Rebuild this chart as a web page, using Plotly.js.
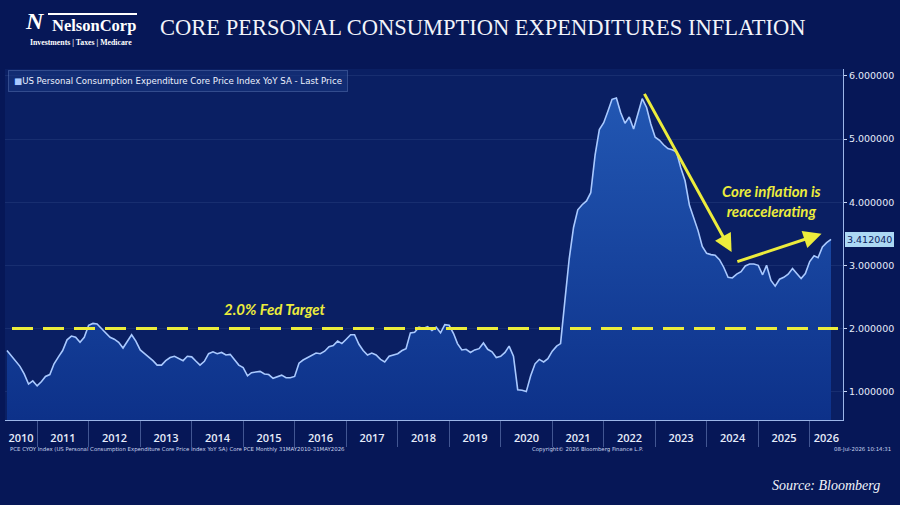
<!DOCTYPE html>
<html>
<head>
<meta charset="utf-8">
<script src="https://cdn.plot.ly/plotly-3.0.1.min.js"></script>
<style>
html,body{margin:0;padding:0;background:#061757;}
#chart{width:900px;height:505px;}
</style>
</head>
<body>
<div id="chart"></div>
<script>
// ---- Data (monthly) ----
var startYear = 2010, startMonth = 5; // May 2010, month-end dates
var v2010 = [1.65, 1.57, 1.47, 1.40, 1.28, 1.12, 1.17, 1.09];
var v2011 = [1.16, 1.24, 1.27, 1.44, 1.55, 1.65, 1.82, 1.88, 1.86, 1.78, 1.86, 2.05];
var v2012 = [2.08, 2.07, 2.00, 1.93, 1.86, 1.83, 1.78, 1.69, 1.80, 1.90, 1.80, 1.66];
var v2013 = [1.60, 1.55, 1.49, 1.42, 1.42, 1.49, 1.54, 1.56, 1.52, 1.49, 1.56, 1.55];
var v2014 = [1.48, 1.42, 1.48, 1.60, 1.63, 1.60, 1.62, 1.58, 1.59, 1.50, 1.42, 1.38];
var v2015 = [1.25, 1.30, 1.31, 1.32, 1.28, 1.27, 1.21, 1.24, 1.26, 1.22, 1.22, 1.24];
var v2016 = [1.45, 1.50, 1.54, 1.57, 1.61, 1.60, 1.64, 1.71, 1.73, 1.80, 1.76, 1.83];
var v2017 = [1.90, 1.90, 1.75, 1.65, 1.58, 1.61, 1.58, 1.51, 1.47, 1.56, 1.58, 1.60];
var v2018 = [1.65, 1.68, 1.93, 1.94, 2.02, 2.00, 2.03, 1.97, 2.02, 1.93, 2.06, 2.05];
var v2019 = [1.92, 1.76, 1.66, 1.67, 1.62, 1.66, 1.68, 1.77, 1.67, 1.63, 1.54, 1.56];
var v2020 = [1.62, 1.72, 1.56, 1.03, 1.02, 1.00, 1.25, 1.44, 1.51, 1.47, 1.52, 1.64];
var v2021 = [1.72, 1.76, 2.45, 3.10, 3.60, 3.88, 3.96, 4.02, 4.15, 4.75, 5.15, 5.26];
var v2022 = [5.45, 5.63, 5.65, 5.42, 5.25, 5.35, 5.16, 5.40, 5.64, 5.50, 5.24, 5.03];
var v2023 = [4.98, 4.91, 4.85, 4.83, 4.80, 4.55, 4.34, 3.95, 3.75, 3.55, 3.30, 3.19];
var v2024 = [3.17, 3.16, 3.09, 2.97, 2.81, 2.80, 2.86, 2.90, 2.99, 3.02, 3.02, 3.00];
var v2025 = [2.85, 3.00, 2.76, 2.67, 2.78, 2.81, 2.86, 2.95, 2.87, 2.79, 2.87, 3.06];
var v2026 = [3.15, 3.12, 3.29, 3.36, 3.41204];

var fedTarget = 2.0;
var yTicks = [1, 2, 3, 4, 5, 6];
var yearLabels = [2010,2011,2012,2013,2014,2015,2016,2017,2018,2019,2020,2021,2022,2023,2024,2025,2026];
var seriesName = 'US Personal Consumption Expenditure Core Price Index YoY SA - Last Price';

var values = [].concat(v2010,v2011,v2012,v2013,v2014,v2015,v2016,v2017,v2018,v2019,v2020,v2021,v2022,v2023,v2024,v2025,v2026);

function pad(n){return (n<10?'0':'')+n;}
function monthEnd(y, m){ // m: 1..12
  var d = new Date(Date.UTC(y, m, 0));
  return d.getUTCFullYear()+'-'+pad(d.getUTCMonth()+1)+'-'+pad(d.getUTCDate());
}
var dates = [];
for (var i = 0; i < values.length; i++) {
  var mm = startMonth - 1 + i;
  dates.push(monthEnd(startYear + Math.floor(mm/12), (mm%12)+1));
}
var lastVal = values[values.length-1];

var xStart = '2010-05-17', xEnd = '2026-08-24';
function toMs(s){return Date.parse(s+'T00:00:00Z');}
function fromMs(ms){var d=new Date(ms);return d.getUTCFullYear()+'-'+pad(d.getUTCMonth()+1)+'-'+pad(d.getUTCDate());}
var tickvals = [], ticktext = [];
yearLabels.forEach(function(y){
  var a = Math.max(toMs(y+'-01-01'), toMs(xStart));
  var b = Math.min(toMs((y+1)+'-01-01'), toMs(xEnd));
  tickvals.push(fromMs((a+b)/2));
  ticktext.push(String(y));
});

var mainTrace = {
  x: dates, y: values, type: 'scatter', mode: 'lines',
  line: {color: '#a9c9ff', width: 1.6},
  fill: 'tozeroy',
  fillgradient: {type: 'vertical', start: 0.55, stop: 5.7,
    colorscale: [[0, '#0d3189'], [1, '#2257b3']]},
  showlegend: false, hoverinfo: 'skip'
};

// layout geometry (pixels)
var L = 5, R = 900-57, T = 69, B = 505-85, W = R-L, H = B-T;
function px2x(px){return (px - L)/W;}
function py2y(py){return (B - py)/H;}

var yellow = '#ecec3c';
var foot = {family: 'DejaVu Sans', size: 5.4, color: '#c9d4ee'};
var layout = {
  width: 900, height: 505,
  paper_bgcolor: '#061757',
  plot_bgcolor: '#0a1f63',
  margin: {l: L, r: 900-R, t: T, b: 505-B},
  title: {
    text: 'CORE PERSONAL CONSUMPTION EXPENDITURES INFLATION',
    font: {family: 'Liberation Serif', size: 22.5, color: '#f2f4fa'},
    x: 160/900, xref: 'container', xanchor: 'left',
    y: 1 - 27/505, yref: 'container', yanchor: 'middle'
  },
  showlegend: false,
  xaxis: {
    type: 'date', range: [xStart, xEnd],
    showgrid: false, zeroline: false,
    showline: true, linecolor: '#9cb6e8', linewidth: 1,
    tickmode: 'array', tickvals: tickvals, ticktext: ticktext,
    ticks: '', ticklen: 0, ticklabelstandoff: 8,
    tickfont: {family: 'Open Sans', size: 11, color: '#e6ecfa', weight: 600},
    minor: {dtick: 'M12', tick0: '2011-01-01', ticks: 'outside', ticklen: 26,
      tickcolor: 'rgba(140,165,220,0.45)', tickwidth: 1, showgrid: false},
    fixedrange: true
  },
  yaxis: {
    side: 'right', range: [0.55, 6.11],
    tickmode: 'array', tickvals: yTicks,
    tickformat: '.6f',
    tickfont: {family: 'DejaVu Sans', size: 9.5, color: '#e6ecfa'},
    ticks: 'outside', ticklen: 3, tickcolor: '#c8d6f2',
    showline: true, linecolor: '#9cb6e8', linewidth: 1,
    showgrid: true, gridcolor: 'rgba(160,185,240,0.10)', gridwidth: 1,
    zeroline: false, fixedrange: true
  },
  shapes: [
    {type: 'line', xref: 'paper', yref: 'y', x0: px2x(12), x1: px2x(838), y0: fedTarget, y1: fedTarget,
     line: {color: yellow, width: 3, dash: '21px,10px'}},
    {type: 'line', xref: 'paper', yref: 'paper', x0: px2x(48), x1: px2x(137), y0: py2y(14), y1: py2y(14),
     line: {color: '#ffffff', width: 2}}
  ],
  annotations: [
    // logo
    {xref: 'paper', yref: 'paper', x: px2x(24), y: py2y(21), xanchor: 'left', yanchor: 'middle',
     text: '<b><i>N</i></b>', showarrow: false, borderpad: 0,
     font: {family: 'Liberation Serif', size: 24, color: '#ffffff'}},
    {xref: 'paper', yref: 'paper', x: px2x(51), y: py2y(25), xanchor: 'left', yanchor: 'middle',
     text: '<b>NelsonCorp</b>', showarrow: false, borderpad: 0,
     font: {family: 'Liberation Serif', size: 16.5, color: '#ffffff'}},
    {xref: 'paper', yref: 'paper', x: px2x(81), y: py2y(42), xanchor: 'center', yanchor: 'middle',
     text: '<b>Investments | Taxes | Medicare</b>', showarrow: false, borderpad: 0,
     font: {family: 'Liberation Serif', size: 7.8, color: '#ffffff'}},
    // legend box
    {xref: 'paper', yref: 'paper', x: px2x(8), y: py2y(70), xanchor: 'left', yanchor: 'top',
     text: '<span style="color:#a9c9ff">\u25A0</span>' + seriesName, showarrow: false,
     bgcolor: 'rgba(25,55,130,0.55)', bordercolor: 'rgba(120,150,210,0.35)', borderwidth: 1, borderpad: 5,
     font: {family: 'DejaVu Sans', size: 8.6, color: '#eef2ff'}},
    // last price tag
    {xref: 'paper', yref: 'y', x: 1, y: lastVal, xanchor: 'left', yanchor: 'middle', xshift: 2,
     text: lastVal.toFixed(6), showarrow: false,
     bgcolor: '#acd8f4', bordercolor: '#acd8f4', borderpad: 1,
     font: {family: 'DejaVu Sans', size: 9.5, color: '#0b2060'}},
    // text callouts
    {xref: 'x', yref: 'y', x: '2015-08-15', y: 2.31, text: '<b><i>2.0% Fed Target</i></b>', showarrow: false,
     font: {family: 'Lato', size: 15, color: yellow}},
    {xref: 'x', yref: 'y', x: '2025-04-01', y: 4.02, text: '<b><i>Core inflation is<br>reaccelerating</i></b>',
     showarrow: false, align: 'center',
     font: {family: 'Lato', size: 15, color: yellow}},
    // arrows
    {xref: 'x', yref: 'y', x: '2024-06-25', y: 3.21, axref: 'x', ayref: 'y', ax: '2022-10-10', ay: 5.74,
     showarrow: true, arrowhead: 2, arrowsize: 1.2, arrowwidth: 3, arrowcolor: yellow, text: ''},
    {xref: 'x', yref: 'y', x: '2026-03-25', y: 3.50, axref: 'x', ayref: 'y', ax: '2024-07-25', ay: 3.05,
     showarrow: true, arrowhead: 2, arrowsize: 1.2, arrowwidth: 3, arrowcolor: yellow, text: ''},
    // footnotes
    {xref: 'paper', yref: 'paper', x: px2x(8), y: py2y(449), xanchor: 'left', yanchor: 'middle', showarrow: false,
     text: 'PCE CYOY Index (US Personal Consumption Expenditure Core Price Index YoY SA) Core PCE Monthly 31MAY2010-31MAY2026',
     font: foot},
    {xref: 'paper', yref: 'paper', x: px2x(587), y: py2y(449), xanchor: 'center', yanchor: 'middle', showarrow: false,
     text: 'Copyright\u00a9 2026 Bloomberg Finance L.P.', font: foot},
    {xref: 'paper', yref: 'paper', x: px2x(893), y: py2y(449), xanchor: 'right', yanchor: 'middle', showarrow: false,
     text: '08-Jul-2026 10:14:31', font: foot},
    {xref: 'paper', yref: 'paper', x: px2x(882), y: py2y(485), xanchor: 'right', yanchor: 'middle', showarrow: false,
     text: '<i>Source: Bloomberg</i>',
     font: {family: 'Liberation Serif', size: 14, color: '#f2f4fa'}}
  ]
};

Plotly.newPlot('chart', [mainTrace], layout, {displayModeBar: false, staticPlot: true});
</script>
</body>
</html>
